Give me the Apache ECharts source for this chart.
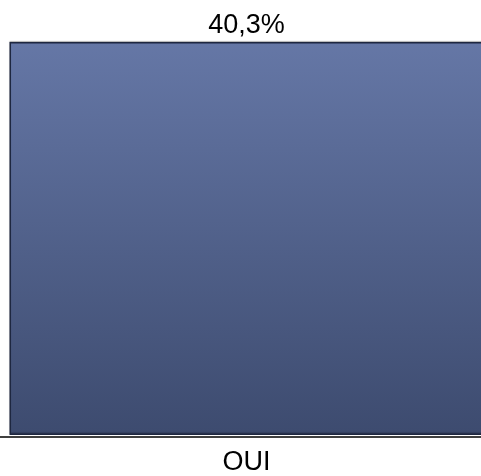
<!DOCTYPE html>
<html>
<head>
<meta charset="utf-8">
<script src="https://cdn.jsdelivr.net/npm/echarts@6/dist/echarts.min.js"></script>
<style>
  html, body { margin: 0; padding: 0; background: #ffffff; overflow: hidden; }
  #chart { width: 481px; height: 476px; }
</style>
</head>
<body>
<div id="chart"></div>
<script>
// Answer categories and their share (%)
const categories = ['OUI'];
const shares = [40.3];

const chart = echarts.init(document.getElementById('chart'));

const fmt = v => v.toFixed(1).replace('.', ',') + '%';

chart.setOption({
  animation: false,
  grid: { left: 12, right: 0, top: 42, bottom: 39 },
  xAxis: {
    type: 'category',
    data: categories,
    axisLine: { show: false },
    axisTick: { show: false },
    axisLabel: {
      color: '#000000',
      fontFamily: 'Liberation Sans, Arial, sans-serif',
      fontSize: 27,
      margin: 14
    }
  },
  yAxis: {
    type: 'value',
    min: 0,
    max: shares[0],
    show: false,
    splitLine: { show: false }
  },
  series: [{
    type: 'bar',
    data: shares,
    barWidth: 474,
    clip: false,
    itemStyle: {
      borderColor: '#1e2740',
      borderWidth: 1.5,
      shadowColor: 'rgba(0,0,0,0.25)',
      shadowOffsetY: -1,
      shadowBlur: 1,
      color: new echarts.graphic.LinearGradient(0, 0, 0, 1, [
        { offset: 0, color: '#6577a6' },
        { offset: 1, color: '#3d4b6f' }
      ])
    },
    label: {
      show: true,
      position: 'top',
      distance: 3,
      color: '#000000',
      fontFamily: 'Liberation Sans, Arial, sans-serif',
      fontSize: 27,
      formatter: p => fmt(p.value)
    }
  }],
  graphic: [{
    type: 'line',
    shape: { x1: 0, y1: 437, x2: 481, y2: 437 },
    style: { stroke: '#000000', lineWidth: 1.5 },
    z: 100
  }]
});
</script>
</body>
</html>
